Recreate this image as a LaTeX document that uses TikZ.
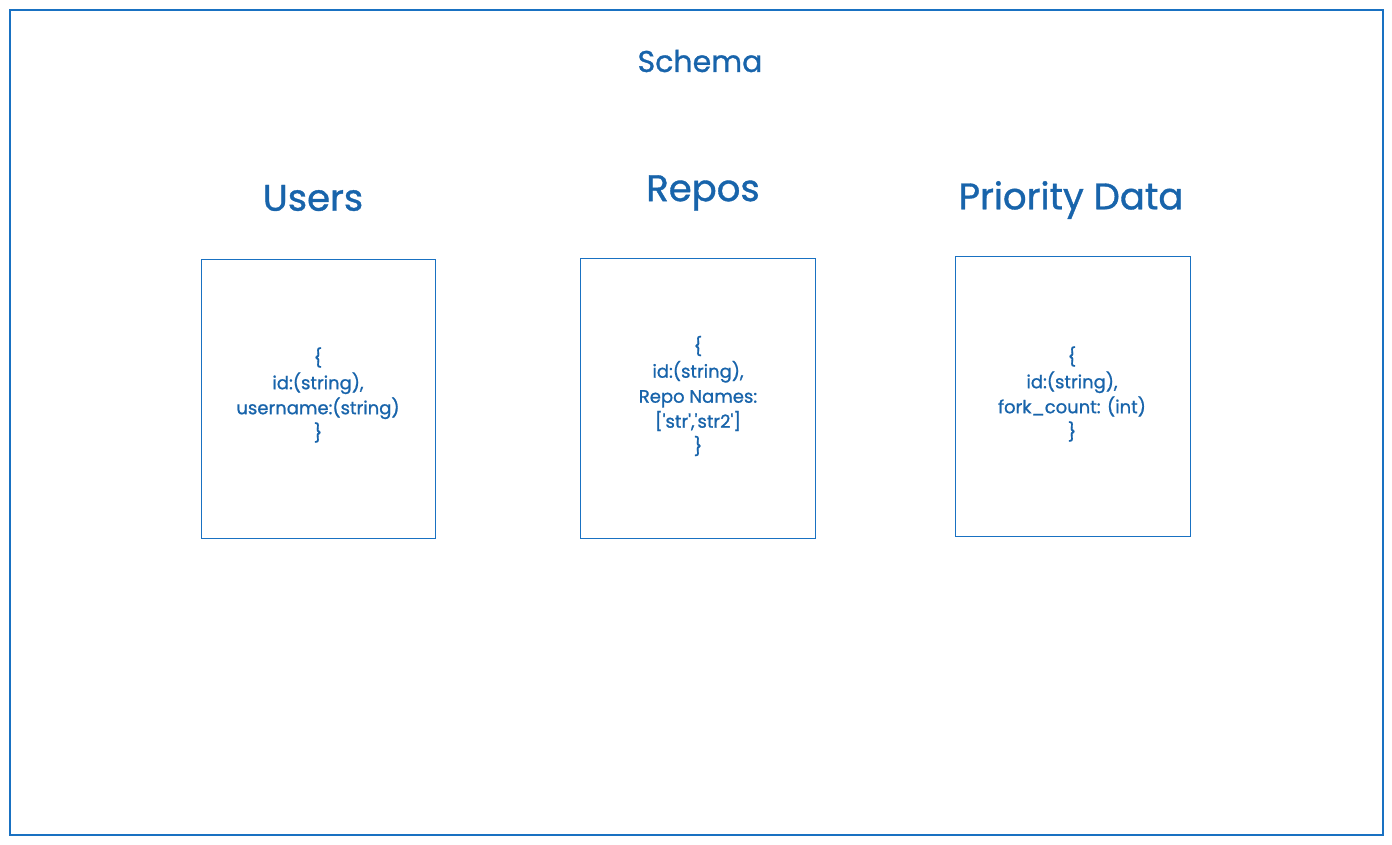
\documentclass[tikz,border=0pt]{standalone}
\usepackage{fontspec}
\setmainfont{Poppins}[Ligatures=TeXOff]
\newfontfamily\sketch{Poppins}[Ligatures=TeXOff,FakeBold=1.0]
\definecolor{inkblue}{HTML}{1864AB}
\definecolor{lineblue}{HTML}{1971C2}
\begin{document}
\begin{tikzpicture}[x=1pt,y=-1pt,
  frame/.style={draw=lineblue,line width=1.1pt},
  title/.style={text=inkblue,font=\sketch\fontsize{37}{42}\selectfont},
  body/.style={text=inkblue,font=\sketch\fontsize{18}{25}\selectfont,align=center}]
\useasboundingbox[fill=white] (0,0) rectangle (1392,845);
\draw[frame] (10,10) rectangle (1383,835);
\node[frame,minimum width=234pt,minimum height=279pt,anchor=north west] (users) at (201,259) {};
\node[frame,minimum width=235pt,minimum height=280pt,anchor=north west] (repos) at (580,258) {};
\node[frame,minimum width=235pt,minimum height=280pt,anchor=north west] (prio) at (955,256) {};
\node[title,font=\sketch\fontsize{30}{36}\selectfont] (schema) at (700,61) {Schema};
\node[title] (userst) at (313,198) {Users};
\node[title] (repost) at (703,193) {Repos};
\node[title] (priot) at (1071,200) {Priority Data};
\node[body] (ub) at (318,395) {\{\\id:(string),\\username:(string)\\\}};
\node[body] (rb) at (698,396) {\{\\id:(string),\\Repo Names:\\{}{[}'str','str2'{]}\\\}};
\node[body] (pb) at (1072,394) {\{\\id:(string),\\fork\_count: (int)\\\}};
\end{tikzpicture}
\end{document}
